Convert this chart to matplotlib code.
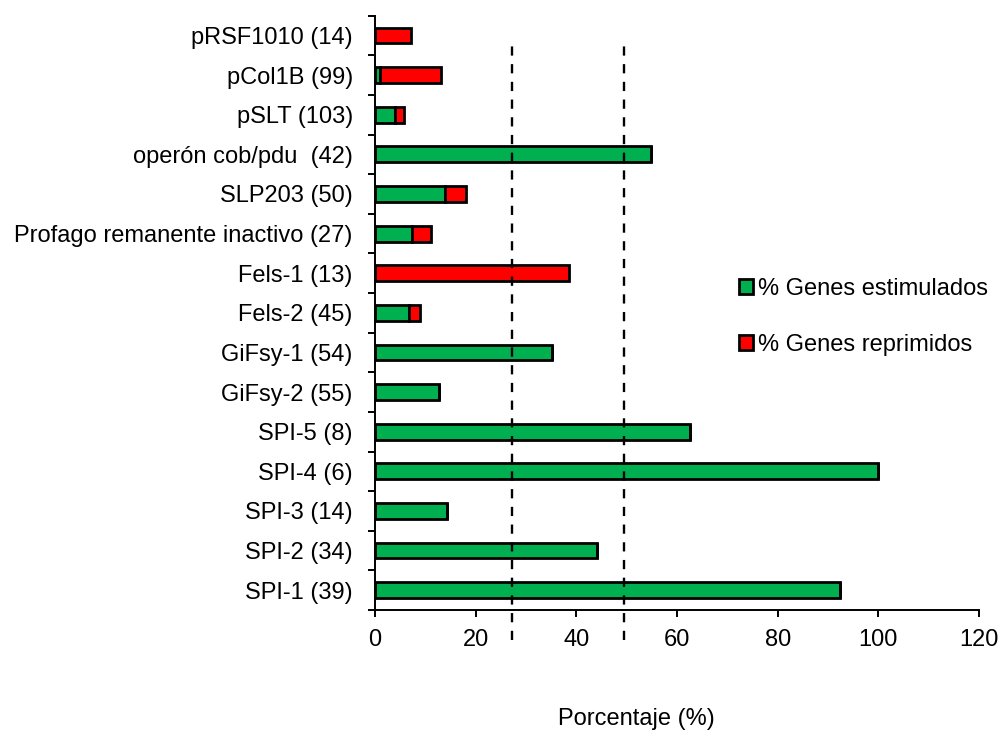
import numpy as np
import matplotlib
matplotlib.use('Agg')
import matplotlib.pyplot as plt

plt.rcParams['font.family'] = ['Liberation Sans', 'DejaVu Sans']

# categories from bottom to top
categories = ['SPI-1 (39)', 'SPI-2 (34)', 'SPI-3 (14)', 'SPI-4 (6)', 'SPI-5 (8)',
              'GiFsy-2 (55)', 'GiFsy-1 (54)', 'Fels-2 (45)', 'Fels-1 (13)',
              'Profago remanente inactivo (27)', 'SLP203 (50)', 'operón cob/pdu  (42)',
              'pSLT (103)', 'pCol1B (99)', 'pRSF1010 (14)']
estimulados = [92.3, 44.1, 14.3, 100, 62.5, 12.7, 35.2, 6.7, 0, 7.4, 14.0, 54.8, 3.9, 1.0, 0]
reprimidos = [0, 0, 0, 0, 0, 0, 0, 2.2, 38.5, 3.7, 4.0, 0, 1.9, 12.1, 7.1]
ref_lines = [27.2, 49.4]
xticks = [0, 20, 40, 60, 80, 100, 120]

GREEN = '#00B050'
RED = '#FF0000'
FS = 17


def create_plot():

    '''Stacked horizontal bars of gene percentages'''

    fig = plt.figure(figsize=(10, 7.31), dpi=100)
    ax = fig.add_axes([0.375, 1 - 610 / 731, 0.604, (610 - 15.7) / 731])

    y = np.arange(len(categories))
    ax.barh(y, estimulados, height=0.4, color=GREEN, edgecolor='black',
            linewidth=2.0, label='% Genes estimulados', zorder=3)
    ax.barh(y, reprimidos, height=0.4, left=estimulados, color=RED, edgecolor='black',
            linewidth=2.0, label='% Genes reprimidos', zorder=3)

    # dashed reference lines (running past the axis)
    for xv in ref_lines:
        ax.plot([xv, xv], [-1.26, 13.94], color='black', linewidth=1.7,
                linestyle=(0, (3.9, 3.6)), clip_on=False, zorder=4)

    ax.set_xlim(0, 120)
    ax.set_ylim(-0.5, len(categories) - 0.5)

    ax.set_xticks(xticks)
    ax.set_xticklabels([str(v) for v in xticks])
    ax.set_yticks(y)
    ax.set_yticklabels(categories)
    ax.set_yticks(np.arange(-0.5, len(categories), 1), minor=True)

    ax.tick_params(axis='x', direction='out', length=5, width=1.4, labelsize=FS, pad=9)
    ax.tick_params(axis='y', which='major', length=0, labelsize=FS, pad=16)
    ax.tick_params(axis='y', which='minor', direction='out', length=5, width=1.4)

    for side in ['top', 'right']:
        ax.spines[side].set_visible(False)
    for side in ['left', 'bottom']:
        ax.spines[side].set_linewidth(1.4)

    fig.text(0.636, 1 - 719 / 731, 'Porcentaje (%)', ha='center', va='center', fontsize=FS)

    ax.legend(loc='upper left', bbox_to_anchor=(0.739, 1 - 278 / 731),
              bbox_transform=fig.transFigure, frameon=False,
              fontsize=FS, handlelength=0.6, handleheight=0.6, handletextpad=0.2,
              labelspacing=1.45, borderpad=0, borderaxespad=0)

    fig.savefig('out.png', dpi=100)


def main():
    create_plot()


if __name__ == "__main__":
    main()
